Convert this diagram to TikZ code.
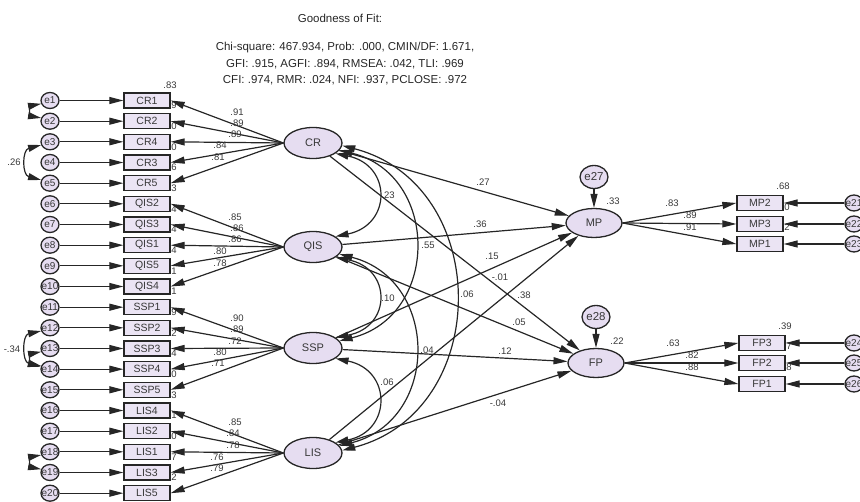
\documentclass[tikz,border=0pt]{standalone}
\usepackage{fontspec}
\setmainfont{Liberation Sans}
\usetikzlibrary{shapes.geometric,arrows.meta}
\definecolor{lineC}{HTML}{262626}
\definecolor{txtC}{HTML}{383838}
\definecolor{latfill}{HTML}{E6DDF1}
\definecolor{boxfill}{HTML}{EBE4F4}
\begin{document}
\begin{tikzpicture}[x=1pt,y=-1pt,
  lbl/.style={font=\fontsize{9.5}{9.5}\selectfont, text=txtC, inner sep=0pt},
  obs/.style={draw=lineC, line width=1.3pt, fill=boxfill, minimum width=46pt, minimum height=15pt, inner sep=0pt, font=\fontsize{10.5}{10.5}\selectfont, text=txtC},
  lat/.style={ellipse, draw=lineC, line width=1.3pt, fill=latfill, minimum width=58pt, minimum height=31pt, inner sep=0pt, font=\fontsize{11}{11}\selectfont, text=txtC},
  err/.style={ellipse, draw=lineC, line width=1.3pt, fill=latfill, minimum width=18pt, minimum height=16pt, inner sep=0pt},
  etxt/.style={font=\fontsize{10}{10}\selectfont, text=txtC, inner sep=0pt},
  bigerr/.style={ellipse, draw=lineC, line width=1.3pt, fill=latfill, minimum width=28pt, minimum height=23pt, inner sep=0pt, font=\fontsize{11.5}{11.5}\selectfont, text=txtC},
  arr/.style={draw=lineC, line width=1.2pt, -{Triangle[length=14pt,width=7pt]}},
  dbl/.style={draw=lineC, line width=1.2pt, {Triangle[length=13pt,width=7pt]}-{Triangle[length=13pt,width=7pt]}},
  fitt/.style={font=\fontsize{11.5}{11.5}\selectfont, text=black!85, inner sep=0pt}]
\useasboundingbox (0,0) rectangle (860,502);
\clip (0,0) rectangle (860,502);

% title
\node[fitt] (title) at (340,18) {Goodness of Fit:};
\node[fitt] (fit1) at (345,48) {Chi-square: 467.934, Prob: .000, CMIN/DF: 1.671,};
\node[fitt] (fit2) at (345,64) {GFI: .915, AGFI: .894, RMSEA: .042, TLI: .969};
\node[fitt] (fit3) at (345,80) {CFI: .974, RMR: .024, NFI: .937, PCLOSE: .972};

% R2 labels (left) drawn first, partly hidden by boxes
\foreach \nm/\yy/\rr [count=\i] in {CR1/100.5/.83, CR2/121.2/.79, CR4/141.8/.80, CR3/162.5/.70, CR5/183.2/.66, QIS2/203.8/.73, QIS3/224.5/.74, QIS1/245.2/.74, QIS5/265.8/.64, QIS4/286.5/.61, SSP1/307.2/.81, SSP2/327.8/.79, SSP3/348.5/.52, SSP4/369.2/.64, SSP5/389.8/.50, LIS4/410.5/.73, LIS2/431.2/.71, LIS1/451.8/.60, LIS3/472.5/.57, LIS5/493.2/.62}
  \node[lbl] (r\i) at (170,\yy-15.5) {\rr};
% R2 labels (right)
\foreach \nm/\yy/\rr/\xx in {MP2/203/.68/783, MP3/224/.80/783, MP1/244/.82/783, FP3/343/.39/785, FP2/363/.67/785, FP1/384/.78/785}
  \node[lbl] (r\nm) at (\xx,\yy-16.5) {\rr};

% latent variables
\node[lat] (CR)  at (313,143) {CR};
\node[lat] (QIS) at (313,247) {QIS};
\node[lat] (SSP) at (313,348) {SSP};
\node[lat] (LIS) at (313,453) {LIS};
\node[lat, minimum width=56pt, minimum height=29pt] (MP) at (594,223) {MP};
\node[lat, minimum width=56pt, minimum height=29pt] (FP) at (596,363) {FP};
\node[bigerr] (e27) at (594,177) {e27};
\node[bigerr] (e28) at (596,317) {e28};

% left indicators with errors
\foreach \nm/\yy [count=\i] in {CR1/100.5, CR2/121.2, CR4/141.8, CR3/162.5, CR5/183.2, QIS2/203.8, QIS3/224.5, QIS1/245.2, QIS5/265.8, QIS4/286.5, SSP1/307.2, SSP2/327.8, SSP3/348.5, SSP4/369.2, SSP5/389.8, LIS4/410.5, LIS2/431.2, LIS1/451.8, LIS3/472.5, LIS5/493.2}{
  \node[obs] (\nm) at (147,\yy) {\nm};
  \node[err] (e\i) at (50,\yy) {};
  \node[etxt] (t\i) at (e\i) {e\i};
  \draw[arr] (e\i) -- (\nm);
}

% right indicators with errors
\foreach \nm/\yy/\xx/\en in {MP2/203/760/21, MP3/224/760/22, MP1/244/760/23, FP3/343/762/24, FP2/363/762/25, FP1/384/762/26}{
  \node[obs] (\nm) at (\xx,\yy) {\nm};
  \node[err] (e\en) at (854,\yy) {};
  \node[etxt] (t\en) at (e\en) {e\en};
  \draw[arr] (e\en) -- (\nm);
}

% loadings
\foreach \lat/\nm in {CR/CR1, CR/CR2, CR/CR4, CR/CR3, CR/CR5, QIS/QIS2, QIS/QIS3, QIS/QIS1, QIS/QIS5, QIS/QIS4, SSP/SSP1, SSP/SSP2, SSP/SSP3, SSP/SSP4, SSP/SSP5, LIS/LIS4, LIS/LIS2, LIS/LIS1, LIS/LIS3, LIS/LIS5}
  \draw[arr] (\lat.west) -- (\nm.east);
\foreach \nm in {MP2, MP3, MP1} \draw[arr] (MP.east) -- (\nm.west);
\foreach \nm in {FP3, FP2, FP1} \draw[arr] (FP.east) -- (\nm.west);
\draw[arr] (e27) -- (MP);
\draw[arr] (e28) -- (FP);

% loading labels
\foreach \p/\q/\v [count=\i] in {237/112/.91, 237/123/.89, 235/134/.89, 220/145/.84, 218/157/.81,
  235/217/.85, 237/228/.86, 235/239/.86, 220/251/.80, 220/263/.78,
  237/318/.90, 237/329/.89, 235/341/.72, 220/352/.80, 218/363/.71,
  235/422/.85, 233/433/.84, 233/445/.78, 217/457/.76, 217/468/.79,
  672/203/.83, 690/215/.89, 690/227/.91, 673/343/.63, 692/355/.82, 692/367/.88,
  613/201/.33, 617/341/.22}
  \node[lbl] (l\i) at (\p,\q) {\v};

% structural paths
\draw[arr] (CR) -- (MP);
\draw[arr] (QIS) -- (MP);
\draw[arr] (SSP) -- (MP);
\draw[arr] (LIS) -- (MP);
\draw[arr] (CR) -- (FP);
\draw[arr] (QIS) -- (FP);
\draw[arr] (SSP) -- (FP);
\draw[arr] (LIS) -- (FP);
\node[lbl] (p1) at (483,182) {.27};
\node[lbl] (p2) at (480,224) {.36};
\node[lbl] (p3) at (492,256) {.15};
\node[lbl] (p4) at (500,277) {-.01};
\node[lbl] (p5) at (524,295) {.38};
\node[lbl] (p6) at (519,322) {.05};
\node[lbl] (p7) at (505,351) {.12};
\node[lbl] (p8) at (498,403) {-.04};

% latent covariances
\draw[dbl] (CR.-25) .. controls (392,165) and (392,225) .. (QIS.25);
\draw[dbl] (QIS.-25) .. controls (392,268) and (392,327) .. (SSP.25);
\draw[dbl] (SSP.-25) .. controls (392,370) and (392,431) .. (LIS.25);
\draw[dbl] (CR.-15) .. controls (440,175) and (440,316) .. (SSP.15);
\draw[dbl] (QIS.-15) .. controls (440,280) and (440,420) .. (LIS.15);
\draw[dbl] (CR.-5) .. controls (493,185) and (493,411) .. (LIS.5);
\node[lbl] (c1) at (388,195) {.23};
\node[lbl] (c2) at (388,298) {.10};
\node[lbl] (c3) at (387,382) {.06};
\node[lbl] (c4) at (428,245) {.55};
\node[lbl] (c5) at (427,350) {.04};
\node[lbl] (c6) at (467,294) {.06};

% error covariances
\draw[dbl] (e1.200) .. controls (30,106) and (30,116) .. (e2.160);
\draw[dbl] (e3.200) .. controls (22,150) and (22,175) .. (e5.160);
\draw[dbl] (e12.200) .. controls (22,335) and (22,362) .. (e14.160);
\draw[dbl] (e13.200) .. controls (30,354) and (30,364) .. (e14.165);
\draw[dbl] (e18.200) .. controls (30,457) and (30,467) .. (e19.160);
\node[lbl] (c7) at (14,162) {.26};
\node[lbl] (c8) at (12,349) {-.34};
\end{tikzpicture}
\end{document}
